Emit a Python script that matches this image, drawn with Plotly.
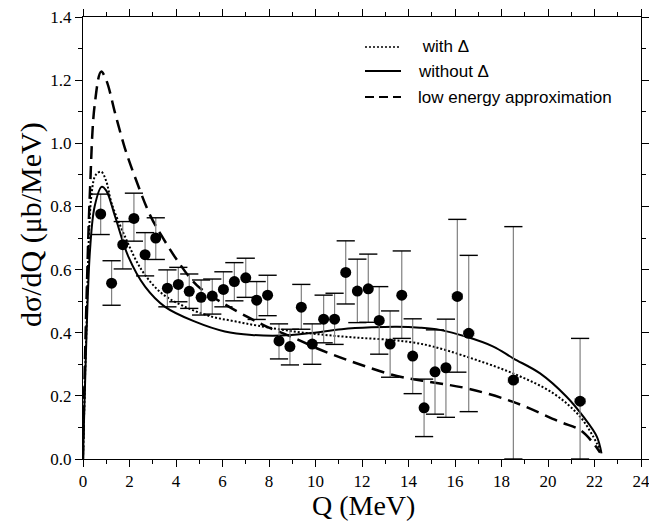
import plotly.graph_objects as go

# ---- experimental data ----
q_data = [0.76, 1.23, 1.71, 2.19, 2.67, 3.13, 3.63, 4.10, 4.57, 5.08, 5.56, 6.04,
          6.51, 7.00, 7.47, 7.94, 8.43, 8.90, 9.39, 9.86, 10.35, 10.82, 11.30, 11.80,
          12.27, 12.74, 13.21, 13.71, 14.18, 14.67, 15.14, 15.61, 16.10, 16.59, 18.51, 21.38]
v_data = [0.776, 0.557, 0.679, 0.762, 0.647, 0.700, 0.541, 0.553, 0.531, 0.512, 0.516, 0.537,
          0.562, 0.574, 0.503, 0.519, 0.374, 0.356, 0.481, 0.364, 0.443, 0.443, 0.591, 0.532,
          0.539, 0.439, 0.364, 0.519, 0.326, 0.162, 0.276, 0.289, 0.515, 0.398, 0.250, 0.183]
err_up = [0.063, 0.071, 0.073, 0.080, 0.070, 0.064, 0.058, 0.054, 0.055, 0.055, 0.054, 0.056,
          0.060, 0.062, 0.059, 0.063, 0.054, 0.055, 0.072, 0.064, 0.076, 0.082, 0.100, 0.101,
          0.110, 0.107, 0.105, 0.140, 0.118, 0.091, 0.133, 0.154, 0.244, 0.247, 0.486, 0.199]
err_down = [0.065, 0.070, 0.077, 0.072, 0.067, 0.068, 0.059, 0.055, 0.054, 0.056, 0.057, 0.055,
            0.061, 0.062, 0.061, 0.065, 0.057, 0.058, 0.070, 0.064, 0.075, 0.080, 0.100, 0.100,
            0.106, 0.107, 0.105, 0.137, 0.119, 0.091, 0.134, 0.157, 0.240, 0.248, 0.250, 0.183]
err_x = [0]*32 + [0.22, 0.22, 0.22, 0.22]

# ---- theory curves ----
q_with = [0, 0.05, 0.13, 0.37, 0.55, 0.78, 1.0, 1.23, 1.81, 2.52, 3.38, 4.39, 5.53, 6.54,
          7.54, 8.98, 10.41, 11.84, 13.28, 14.2, 15.07, 16.5, 18.5, 20.23, 21.38, 22.1, 22.3]
v_with = [0, 0.15, 0.37, 0.84, 0.90, 0.91, 0.88, 0.81, 0.704, 0.599, 0.525, 0.482, 0.451, 0.436,
          0.422, 0.405, 0.393, 0.384, 0.377, 0.369, 0.356, 0.324, 0.271, 0.208, 0.134, 0.05, 0.018]

q_without = [0, 0.05, 0.13, 0.3, 0.5, 0.8, 1.0, 1.38, 1.95, 2.67, 3.53, 4.82, 6.1, 7.26, 8.55,
             9.69, 11.13, 12.4, 13.5, 14.5, 15.35, 16.5, 17.65, 18.5, 19.66, 20.8, 21.52, 22.1, 22.3]
v_without = [0, 0.14, 0.345, 0.66, 0.80, 0.862, 0.85, 0.768, 0.641, 0.546, 0.482, 0.435, 0.404,
             0.393, 0.391, 0.398, 0.411, 0.417, 0.419, 0.416, 0.409, 0.387, 0.356, 0.319, 0.271,
             0.197, 0.134, 0.071, 0.018]

q_low = [0, 0.05, 0.15, 0.3, 0.5, 0.78, 1.0, 1.4, 1.8, 2.2, 2.9, 3.4, 4.0, 4.9, 6.1, 7.18, 7.97,
         8.98, 9.98, 11.5, 13.5, 15.0, 16.5, 18.5, 20.5, 21.38, 21.95, 22.24]
v_low = [0, 0.2, 0.5, 0.85, 1.12, 1.227, 1.20, 1.09, 0.985, 0.90, 0.77, 0.705, 0.635, 0.55, 0.49,
         0.446, 0.417, 0.387, 0.353, 0.31, 0.263, 0.243, 0.224, 0.181, 0.118, 0.092, 0.05, 0.02]

legend_names = [" with Δ", "without Δ", "low energy approximation"]
x_title = "Q (MeV)"
y_title = "dσ/dQ (μb/MeV)"

serif = "Liberation Serif"
sans = "Liberation Sans"

fig = go.Figure()

curve_styles = [dict(color="black", width=2, dash="2px,2px", shape="spline"),
                dict(color="black", width=2, shape="spline"),
                dict(color="black", width=2.5, dash="13px,7px", shape="spline")]
for qx, vy, st in zip([q_with, q_without, q_low], [v_with, v_without, v_low], curve_styles):
    fig.add_trace(go.Scatter(x=qx, y=vy, mode="lines", showlegend=False, line=st))

# data points with gray error stems
fig.add_trace(go.Scatter(
    x=q_data, y=v_data, mode="markers", showlegend=False,
    marker=dict(color="black", size=11),
    error_y=dict(type="data", symmetric=False, array=err_up, arrayminus=err_down,
                 color="#808080", thickness=1.2, width=0),
    error_x=dict(type="data", array=err_x, color="#808080", thickness=1, width=3),
))
# error bar caps (black)
for sign, errs in ((1, err_up), (-1, err_down)):
    fig.add_trace(go.Scatter(
        x=q_data, y=[v + sign * e for v, e in zip(v_data, errs)], mode="markers",
        showlegend=False,
        marker=dict(symbol="line-ew", size=13, line=dict(color="black", width=1.4))))

tick_font = dict(family=serif, size=17, color="black")
axis_common = dict(
    showline=True, linecolor="black", linewidth=1, mirror="ticks",
    ticks="outside", ticklen=7, tickwidth=1, tickcolor="black",
    showgrid=False, zeroline=False, automargin=False,
    ticklabeloverflow="allow",
)

fig.update_layout(
    xaxis=dict(range=[0, 24], tick0=0, dtick=2, tickfont=tick_font,
               minor=dict(dtick=1, ticks="outside", ticklen=4, tickcolor="black"),
               **axis_common),
    yaxis=dict(range=[0, 1.4], tick0=0, dtick=0.2, tickformat=".1f", tickfont=tick_font,
               minor=dict(dtick=0.1, ticks="outside", ticklen=4, tickcolor="black"),
               **axis_common),
)

# plot area in pixels: x 83..641, y 17..459
W, H = 558.0, 442.0
def px(xp):
    return (xp - 83) / W
def py(yp):
    return (459 - yp) / H

annotations = [
    dict(text=x_title, xref="paper", yref="paper", x=px(363), y=py(505),
         xanchor="center", yanchor="middle", showarrow=False,
         font=dict(family=serif, size=28, color="black")),
    dict(text=y_title, xref="paper", yref="paper", x=px(31), y=py(225),
         xanchor="center", yanchor="middle", showarrow=False, textangle=-90,
         font=dict(family=serif, size=30, color="black")),
]
shapes = []
leg_rows = [47, 71, 97]
leg_dash = ["2px,2px", "solid", "9px,5px"]
leg_width = [1.6, 1.8, 2.2]
for name, yr, dsh, lw in zip(legend_names, leg_rows, leg_dash, leg_width):
    shapes.append(dict(type="line", xref="paper", yref="paper",
                       x0=px(365), x1=px(401), y0=py(yr), y1=py(yr),
                       line=dict(color="black", width=lw, dash=dsh)))
    annotations.append(dict(text=name, xref="paper", yref="paper", x=px(416), y=py(yr),
                            xanchor="left", yanchor="middle", showarrow=False,
                            font=dict(family=sans, size=17, color="black")))

fig.update_layout(
    width=649, height=521,
    margin=dict(l=83, r=8, t=17, b=62),
    font=dict(family=serif, size=17, color="black"),
    plot_bgcolor="white", paper_bgcolor="white",
    showlegend=False,
    annotations=annotations, shapes=shapes,
)

fig.write_html("out.html")
